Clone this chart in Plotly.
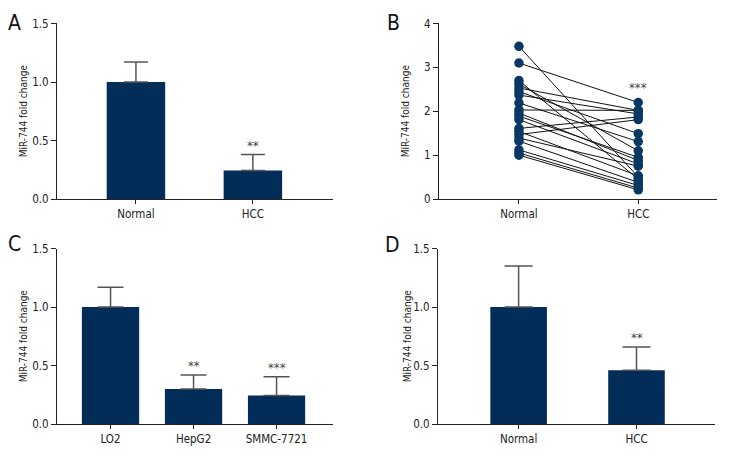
import plotly.graph_objects as go

# ---------------- data ----------------
a_categories = ["Normal", "HCC"]
a_means = [1.0, 0.245]
a_err_up = [0.17, 0.135]
a_sig = ["", "**"]

b_categories = ["Normal", "HCC"]
b_normal = [3.48, 3.10, 2.70, 2.62, 2.53, 2.45, 2.37, 2.19, 2.03, 1.96,
            1.89, 1.81, 1.61, 1.54, 1.47, 1.39, 1.32, 1.12, 1.05, 1.00]
b_hcc = [0.50, 2.20, 0.45, 1.10, 2.02, 1.49, 1.94, 1.31, 2.02, 0.88,
         0.95, 0.80, 1.87, 0.53, 1.81, 0.75, 0.38, 0.31, 0.25, 0.21]
b_sig = "***"

c_categories = ["LO2", "HepG2", "SMMC-7721"]
c_means = [1.0, 0.30, 0.245]
c_err_up = [0.17, 0.12, 0.16]
c_sig = ["", "**", "***"]

d_categories = ["Normal", "HCC"]
d_means = [1.0, 0.46]
d_err_up = [0.35, 0.20]
d_sig = ["", "**"]

y_title = "MiR-744 fold change"
panel_letters = ["A", "B", "C", "D"]

# ---------------- style ----------------
W, H = 732, 468
FONT = "Liberation Sans Narrow, DejaVu Sans Condensed, sans-serif"
BAR = "#022d59"
DOT = "#0a3864"
ERR = "#555555"
TXT = "#222222"
STAR = "#444444"

def px_x(a, b):
    return [a / W, b / W]

def px_y(top, bottom):
    return [1 - bottom / H, 1 - top / H]

fig = go.Figure()

def add_bars(cats, means, errs, sig, xa, ya, bw, capw):
    fig.add_trace(go.Bar(
        x=cats, y=means, xaxis=xa, yaxis=ya, width=bw,
        marker=dict(color=BAR, line=dict(width=0)),
        error_y=dict(type="data", symmetric=False, array=errs,
                     arrayminus=[0] * len(errs), color=ERR,
                     thickness=1.5, width=capw),
        showlegend=False, hoverinfo="skip"))
    for c, m, e, s in zip(cats, means, errs, sig):
        if s:
            fig.add_annotation(x=c, y=m + e, xref=xa.replace("axis", ""),
                               yref=ya.replace("axis", ""), text=s,
                               showarrow=False, xanchor="center", yanchor="bottom", yshift=0,
                               font=dict(family=FONT, size=13, color=STAR))

add_bars(a_categories, a_means, a_err_up, a_sig, "x", "y", 0.5, 12)

# panel B paired lines
bx, by = [], []
for n, h in zip(b_normal, b_hcc):
    bx += [b_categories[0], b_categories[1], None]
    by += [n, h, None]
fig.add_trace(go.Scatter(x=bx, y=by, xaxis="x2", yaxis="y2", mode="lines",
                         line=dict(color="#111111", width=1),
                         showlegend=False, hoverinfo="skip", connectgaps=False))
fig.add_trace(go.Scatter(x=[b_categories[0]] * len(b_normal) + [b_categories[1]] * len(b_hcc),
                         y=b_normal + b_hcc, xaxis="x2", yaxis="y2", mode="markers",
                         marker=dict(color=DOT, size=9.5, line=dict(width=0)),
                         showlegend=False, hoverinfo="skip"))
fig.add_annotation(x=b_categories[1], y=max(b_hcc), xref="x2", yref="y2", text=b_sig,
                   showarrow=False, xanchor="center", yanchor="bottom", yshift=6,
                   font=dict(family=FONT, size=13, color=STAR))

add_bars(c_categories, c_means, c_err_up, c_sig, "x3", "y3", 0.69, 13)
add_bars(d_categories, d_means, d_err_up, d_sig, "x4", "y4", 0.48, 14)

axis_common = dict(showline=True, linecolor="#222", linewidth=1, ticks="outside",
                   ticklen=4, tickcolor="#222", showgrid=False, zeroline=False,
                   tickfont=dict(family=FONT, size=11.5, color=TXT))

def xaxis(dom, rng, anchor):
    return dict(axis_common, domain=dom, range=rng, anchor=anchor, type="category")

def yaxis(dom, rng, dtick, fmt, anchor):
    return dict(axis_common, domain=dom, range=rng, anchor=anchor, dtick=dtick,
                tickformat=fmt, tick0=0, ticklen=5)

fig.update_layout(
    width=W, height=H, margin=dict(l=0, r=0, t=0, b=0),
    paper_bgcolor="white", plot_bgcolor="white",
    xaxis=xaxis(px_x(57, 333), [-0.675, 1.685], "y"),
    yaxis=yaxis(px_y(17, 198), [0, 1.5], 0.5, ".1f", "x"),
    xaxis2=xaxis(px_x(439, 717), [-0.67, 1.66], "y2"),
    yaxis2=yaxis(px_y(17, 198), [0, 4], 1, "d", "x2"),
    xaxis3=xaxis(px_x(57, 333), [-0.645, 2.68], "y3"),
    yaxis3=yaxis(px_y(249, 430), [0, 1.5], 0.5, ".1f", "x3"),
    xaxis4=xaxis(px_x(438, 715), [-0.684, 1.666], "y4"),
    yaxis4=yaxis(px_y(249, 430), [0, 1.5], 0.5, ".1f", "x4"),
)

# y titles and panel letters
for (xp, yc) in [(23, 107.5), (405, 107.5), (23, 339.5), (407, 339.5)]:
    fig.add_annotation(x=xp / W, y=1 - yc / H, xref="paper", yref="paper",
                       text=y_title, textangle=-90, showarrow=False,
                       xanchor="center", yanchor="middle",
                       font=dict(family=FONT, size=10, color=TXT))
for letter, (xp, yp) in zip(panel_letters, [(14, 17), (393, 17), (14, 244), (392, 245)]):
    fig.add_annotation(x=xp / W, y=1 - yp / H, xref="paper", yref="paper",
                       text=letter, showarrow=False,
                       xanchor="center", yanchor="middle",
                       font=dict(family=FONT, size=21, color="#111"))

fig.write_html("out.html", config={"displayModeBar": False},
               post_script="document.body.style.margin='0';document.body.style.padding='0';")
